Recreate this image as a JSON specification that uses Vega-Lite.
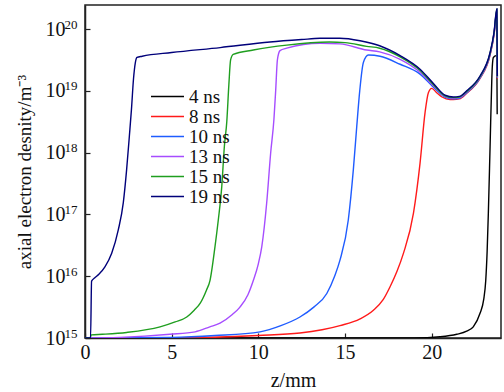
{
  "$schema": "https://vega.github.io/schema/vega-lite/v6.json",
  "width": 416,
  "height": 333,
  "autosize": {"type": "none"},
  "padding": {"left": 85, "top": 5, "right": 3, "bottom": 54},
  "config": {
    "view": {"stroke": "#222", "strokeWidth": 1.5},
    "font": "Liberation Serif",
    "axis": {"domainColor": "#222", "domainWidth": 1.5, "tickColor": "#222", "tickWidth": 1.2, "labelColor": "#111", "titleColor": "#111", "grid": false, "labelFont": "Liberation Serif", "titleFont": "Liberation Serif", "titleFontWeight": "normal"}
  },
  "data": {"values": [
    {"t": "4 ns", "z": 0, "n": 1e15},
    {"t": "4 ns", "z": 19, "n": 1e15},
    {"t": "4 ns", "z": 20.48, "n": 1.047e15},
    {"t": "4 ns", "z": 21.45, "n": 1.148e15},
    {"t": "4 ns", "z": 22.02, "n": 1.288e15},
    {"t": "4 ns", "z": 22.4, "n": 1.514e15},
    {"t": "4 ns", "z": 22.79, "n": 2.512e15},
    {"t": "4 ns", "z": 23.0, "n": 4.169e15},
    {"t": "4 ns", "z": 23.12, "n": 8.511e15},
    {"t": "4 ns", "z": 23.2, "n": 2.512e16},
    {"t": "4 ns", "z": 23.27, "n": 1.047e17},
    {"t": "4 ns", "z": 23.37, "n": 1.259e18},
    {"t": "4 ns", "z": 23.47, "n": 1.549e19},
    {"t": "4 ns", "z": 23.5, "n": 2.512e19},
    {"t": "4 ns", "z": 23.56, "n": 3.467e19},
    {"t": "4 ns", "z": 23.72, "n": 3.715e19},
    {"t": "4 ns", "z": 23.76, "n": 3.631e19},
    {"t": "4 ns", "z": 23.78, "n": 4.169e18},

    {"t": "8 ns", "z": 0, "n": 1e15},
    {"t": "8 ns", "z": 5, "n": 1e15},
    {"t": "8 ns", "z": 10, "n": 1.096e15},
    {"t": "8 ns", "z": 12.4, "n": 1.202e15},
    {"t": "8 ns", "z": 14.71, "n": 1.585e15},
    {"t": "8 ns", "z": 15.87, "n": 2.042e15},
    {"t": "8 ns", "z": 16.64, "n": 2.818e15},
    {"t": "8 ns", "z": 17.2, "n": 4.169e15},
    {"t": "8 ns", "z": 17.6, "n": 6.761e15},
    {"t": "8 ns", "z": 18.0, "n": 1.202e16},
    {"t": "8 ns", "z": 18.37, "n": 2.344e16},
    {"t": "8 ns", "z": 18.95, "n": 1.047e17},
    {"t": "8 ns", "z": 19.33, "n": 6.761e17},
    {"t": "8 ns", "z": 19.62, "n": 4.467e18},
    {"t": "8 ns", "z": 19.81, "n": 9.333e18},
    {"t": "8 ns", "z": 20.0, "n": 1.096e19},
    {"t": "8 ns", "z": 20.29, "n": 9.333e18},
    {"t": "8 ns", "z": 20.6, "n": 7.943e18},
    {"t": "8 ns", "z": 21.06, "n": 7.244e18},
    {"t": "8 ns", "z": 21.25, "n": 7.244e18},
    {"t": "8 ns", "z": 21.6, "n": 7.413e18},
    {"t": "8 ns", "z": 22.02, "n": 9.12e18},
    {"t": "8 ns", "z": 22.79, "n": 1.585e19},
    {"t": "8 ns", "z": 23.37, "n": 3.802e19},
    {"t": "8 ns", "z": 23.6, "n": 8.128e19},
    {"t": "8 ns", "z": 23.76, "n": 1.95e20},
    {"t": "8 ns", "z": 23.79, "n": 1.585e19},

    {"t": "10 ns", "z": 0, "n": 1e15},
    {"t": "10 ns", "z": 5, "n": 1.023e15},
    {"t": "10 ns", "z": 7.5, "n": 1.096e15},
    {"t": "10 ns", "z": 10.1, "n": 1.259e15},
    {"t": "10 ns", "z": 11.3, "n": 1.585e15},
    {"t": "10 ns", "z": 12.4, "n": 2.188e15},
    {"t": "10 ns", "z": 13.2, "n": 3.162e15},
    {"t": "10 ns", "z": 13.95, "n": 5.248e15},
    {"t": "10 ns", "z": 14.4, "n": 1e16},
    {"t": "10 ns", "z": 14.71, "n": 1.82e16},
    {"t": "10 ns", "z": 15.19, "n": 8.128e16},
    {"t": "10 ns", "z": 15.48, "n": 5.248e17},
    {"t": "10 ns", "z": 15.68, "n": 2.692e18},
    {"t": "10 ns", "z": 15.85, "n": 1e19},
    {"t": "10 ns", "z": 16.06, "n": 2.884e19},
    {"t": "10 ns", "z": 16.35, "n": 3.802e19},
    {"t": "10 ns", "z": 17.02, "n": 3.631e19},
    {"t": "10 ns", "z": 18.18, "n": 2.692e19},
    {"t": "10 ns", "z": 19.33, "n": 1.862e19},
    {"t": "10 ns", "z": 20.1, "n": 1.148e19},
    {"t": "10 ns", "z": 20.77, "n": 7.943e18},
    {"t": "10 ns", "z": 21.25, "n": 7.413e18},
    {"t": "10 ns", "z": 21.6, "n": 7.586e18},
    {"t": "10 ns", "z": 22.02, "n": 9.333e18},
    {"t": "10 ns", "z": 22.79, "n": 1.622e19},
    {"t": "10 ns", "z": 23.37, "n": 3.89e19},
    {"t": "10 ns", "z": 23.6, "n": 8.318e19},
    {"t": "10 ns", "z": 23.76, "n": 1.995e20},
    {"t": "10 ns", "z": 23.79, "n": 1.622e19},

    {"t": "13 ns", "z": 0, "n": 1e15},
    {"t": "13 ns", "z": 2, "n": 1.023e15},
    {"t": "13 ns", "z": 4.9, "n": 1.148e15},
    {"t": "13 ns", "z": 6.35, "n": 1.259e15},
    {"t": "13 ns", "z": 7.2, "n": 1.514e15},
    {"t": "13 ns", "z": 7.79, "n": 1.738e15},
    {"t": "13 ns", "z": 8.5, "n": 2.399e15},
    {"t": "13 ns", "z": 8.94, "n": 3.162e15},
    {"t": "13 ns", "z": 9.4, "n": 5.012e15},
    {"t": "13 ns", "z": 9.71, "n": 8.511e15},
    {"t": "13 ns", "z": 10.0, "n": 1.585e16},
    {"t": "13 ns", "z": 10.2, "n": 3.02e16},
    {"t": "13 ns", "z": 10.48, "n": 1.514e17},
    {"t": "13 ns", "z": 10.71, "n": 9.772e17},
    {"t": "13 ns", "z": 10.9, "n": 3.467e18},
    {"t": "13 ns", "z": 11.0, "n": 1e19},
    {"t": "13 ns", "z": 11.1, "n": 3.162e19},
    {"t": "13 ns", "z": 11.25, "n": 4.467e19},
    {"t": "13 ns", "z": 11.64, "n": 4.898e19},
    {"t": "13 ns", "z": 13.56, "n": 5.888e19},
    {"t": "13 ns", "z": 14.71, "n": 5.754e19},
    {"t": "13 ns", "z": 16.25, "n": 4.571e19},
    {"t": "13 ns", "z": 17.0, "n": 4.266e19},
    {"t": "13 ns", "z": 18.18, "n": 3.236e19},
    {"t": "13 ns", "z": 19.33, "n": 1.995e19},
    {"t": "13 ns", "z": 20.1, "n": 1.202e19},
    {"t": "13 ns", "z": 20.77, "n": 8.128e18},
    {"t": "13 ns", "z": 21.25, "n": 7.586e18},
    {"t": "13 ns", "z": 21.6, "n": 7.762e18},
    {"t": "13 ns", "z": 22.02, "n": 9.55e18},
    {"t": "13 ns", "z": 22.79, "n": 1.66e19},
    {"t": "13 ns", "z": 23.37, "n": 3.981e19},
    {"t": "13 ns", "z": 23.6, "n": 8.511e19},
    {"t": "13 ns", "z": 23.76, "n": 2.042e20},
    {"t": "13 ns", "z": 23.79, "n": 1.66e19},

    {"t": "15 ns", "z": 0, "n": 1e15},
    {"t": "15 ns", "z": 0.3, "n": 1e15},
    {"t": "15 ns", "z": 0.36, "n": 1.122e15},
    {"t": "15 ns", "z": 1.0, "n": 1.148e15},
    {"t": "15 ns", "z": 2.4, "n": 1.23e15},
    {"t": "15 ns", "z": 4.33, "n": 1.514e15},
    {"t": "15 ns", "z": 5.2, "n": 1.82e15},
    {"t": "15 ns", "z": 5.87, "n": 2.188e15},
    {"t": "15 ns", "z": 6.3, "n": 2.818e15},
    {"t": "15 ns", "z": 6.64, "n": 3.631e15},
    {"t": "15 ns", "z": 7.0, "n": 5.888e15},
    {"t": "15 ns", "z": 7.21, "n": 8.511e15},
    {"t": "15 ns", "z": 7.5, "n": 3.02e16},
    {"t": "15 ns", "z": 7.69, "n": 8.128e16},
    {"t": "15 ns", "z": 7.89, "n": 2.818e17},
    {"t": "15 ns", "z": 8.04, "n": 1.259e18},
    {"t": "15 ns", "z": 8.18, "n": 3.162e18},
    {"t": "15 ns", "z": 8.3, "n": 1.259e19},
    {"t": "15 ns", "z": 8.4, "n": 3.162e19},
    {"t": "15 ns", "z": 8.55, "n": 3.89e19},
    {"t": "15 ns", "z": 9.71, "n": 4.571e19},
    {"t": "15 ns", "z": 11.64, "n": 5.495e19},
    {"t": "15 ns", "z": 14.1, "n": 6.166e19},
    {"t": "15 ns", "z": 15.0, "n": 6.026e19},
    {"t": "15 ns", "z": 16.25, "n": 5.248e19},
    {"t": "15 ns", "z": 17.0, "n": 4.898e19},
    {"t": "15 ns", "z": 18.18, "n": 3.548e19},
    {"t": "15 ns", "z": 19.33, "n": 2.138e19},
    {"t": "15 ns", "z": 20.1, "n": 1.259e19},
    {"t": "15 ns", "z": 20.77, "n": 8.318e18},
    {"t": "15 ns", "z": 21.25, "n": 7.762e18},
    {"t": "15 ns", "z": 21.6, "n": 7.943e18},
    {"t": "15 ns", "z": 22.02, "n": 9.772e18},
    {"t": "15 ns", "z": 22.79, "n": 1.698e19},
    {"t": "15 ns", "z": 23.37, "n": 4.074e19},
    {"t": "15 ns", "z": 23.6, "n": 8.71e19},
    {"t": "15 ns", "z": 23.76, "n": 2.089e20},
    {"t": "15 ns", "z": 23.79, "n": 1.698e19},

    {"t": "19 ns", "z": 0, "n": 1e15},
    {"t": "19 ns", "z": 0.32, "n": 1e15},
    {"t": "19 ns", "z": 0.38, "n": 8.318e15},
    {"t": "19 ns", "z": 0.55, "n": 9.333e15},
    {"t": "19 ns", "z": 0.8, "n": 1.072e16},
    {"t": "19 ns", "z": 1.15, "n": 1.413e16},
    {"t": "19 ns", "z": 1.54, "n": 2.344e16},
    {"t": "19 ns", "z": 1.92, "n": 5.623e16},
    {"t": "19 ns", "z": 2.21, "n": 1.549e17},
    {"t": "19 ns", "z": 2.4, "n": 5.248e17},
    {"t": "19 ns", "z": 2.56, "n": 1.862e18},
    {"t": "19 ns", "z": 2.68, "n": 5.012e18},
    {"t": "19 ns", "z": 2.8, "n": 1.585e19},
    {"t": "19 ns", "z": 2.9, "n": 2.818e19},
    {"t": "19 ns", "z": 3.0, "n": 3.467e19},
    {"t": "19 ns", "z": 3.3, "n": 3.631e19},
    {"t": "19 ns", "z": 5, "n": 4.169e19},
    {"t": "19 ns", "z": 7.8, "n": 5.012e19},
    {"t": "19 ns", "z": 10.67, "n": 6.166e19},
    {"t": "19 ns", "z": 12.5, "n": 6.761e19},
    {"t": "19 ns", "z": 13.56, "n": 7.079e19},
    {"t": "19 ns", "z": 14.7, "n": 7.079e19},
    {"t": "19 ns", "z": 15.87, "n": 6.457e19},
    {"t": "19 ns", "z": 17.0, "n": 5.37e19},
    {"t": "19 ns", "z": 18.18, "n": 3.715e19},
    {"t": "19 ns", "z": 19.33, "n": 2.239e19},
    {"t": "19 ns", "z": 20.1, "n": 1.318e19},
    {"t": "19 ns", "z": 20.77, "n": 8.511e18},
    {"t": "19 ns", "z": 21.25, "n": 7.943e18},
    {"t": "19 ns", "z": 21.6, "n": 8.128e18},
    {"t": "19 ns", "z": 22.02, "n": 1e19},
    {"t": "19 ns", "z": 22.79, "n": 1.738e19},
    {"t": "19 ns", "z": 23.37, "n": 4.169e19},
    {"t": "19 ns", "z": 23.6, "n": 8.913e19},
    {"t": "19 ns", "z": 23.76, "n": 2.138e20},
    {"t": "19 ns", "z": 23.79, "n": 1.738e19}
  ]},
  "layer": [
    {
      "transform": [{"filter": "indexof(['4 ns', '8 ns', '10 ns'], datum.t) >= 0"}],
      "mark": {"type": "line", "strokeWidth": 1.4, "interpolate": "monotone", "clip": true},
      "encoding": {
        "x": {
          "field": "z", "type": "quantitative",
          "scale": {"domain": [0, 24], "nice": false, "zero": false},
          "axis": {"values": [0, 5, 10, 15, 20], "tickSize": -5, "labelPadding": 9, "labelFontSize": 20, "title": "z/mm", "titleFontSize": 20, "titlePadding": 8, "labelFlush": false}
        },
        "y": {
          "field": "n", "type": "quantitative",
          "scale": {"type": "log", "domain": [1e15, 2.45e20], "nice": false},
          "axis": {"orient": "left", "values": [1e15, 1e16, 1e17, 1e18, 1e19, 1e20], "tickSize": -5, "labelPadding": 25, "labelFontSize": 20, "labelExpr": "'10'",
            "title": "axial electron desnity/m⁻³", "titleFontSize": 19, "titlePadding": 11}
        },
        "color": {
          "field": "t", "type": "nominal",
          "scale": {"domain": ["4 ns", "8 ns", "10 ns", "13 ns", "15 ns", "19 ns"], "range": ["#000000", "#ff1a1a", "#1f5cff", "#a64dff", "#1f9e1f", "#00007a"]},
          "legend": {"orient": "none", "legendX": 73, "legendY": 82, "title": null, "symbolType": "M-2,0H2", "symbolSize": 272, "symbolStrokeWidth": 1.5, "labelFontSize": 19, "labelFont": "Liberation Serif", "labelColor": "#111", "rowPadding": 0, "labelOffset": 12}
        }
      }
    },
    {
      "transform": [{"filter": "indexof(['13 ns', '15 ns', '19 ns'], datum.t) >= 0"}],
      "mark": {"type": "line", "strokeWidth": 1.4, "interpolate": "monotone", "clip": true},
      "encoding": {
        "x": {
          "field": "z", "type": "quantitative",
          "scale": {"domain": [0, 24], "nice": false, "zero": false},
          "axis": {"values": [0, 5, 10, 15, 20], "tickSize": -5, "labelPadding": 9, "labelFontSize": 20, "title": "z/mm", "titleFontSize": 20, "titlePadding": 8, "labelFlush": false}
        },
        "y": {
          "field": "n", "type": "quantitative",
          "scale": {"type": "log", "domain": [1e15, 2.45e20], "nice": false},
          "axis": {"orient": "left", "values": [1e15, 1e16, 1e17, 1e18, 1e19, 1e20], "ticks": false, "domain": false, "labelPadding": 21, "labelAlign": "left", "labelFontSize": 13, "labelOffset": -5, "labelExpr": "format(log(datum.value)/LN10, '.0f')", "title": null}
        },
        "color": {
          "field": "t", "type": "nominal",
          "scale": {"domain": ["4 ns", "8 ns", "10 ns", "13 ns", "15 ns", "19 ns"], "range": ["#000000", "#ff1a1a", "#1f5cff", "#a64dff", "#1f9e1f", "#00007a"]},
          "legend": {"orient": "none", "legendX": 73, "legendY": 82, "title": null, "symbolType": "M-2,0H2", "symbolSize": 272, "symbolStrokeWidth": 1.5, "labelFontSize": 19, "labelFont": "Liberation Serif", "labelColor": "#111", "rowPadding": 0, "labelOffset": 12}
        }
      }
    }
  ],
  "resolve": {"axis": {"y": "independent"}}
}
